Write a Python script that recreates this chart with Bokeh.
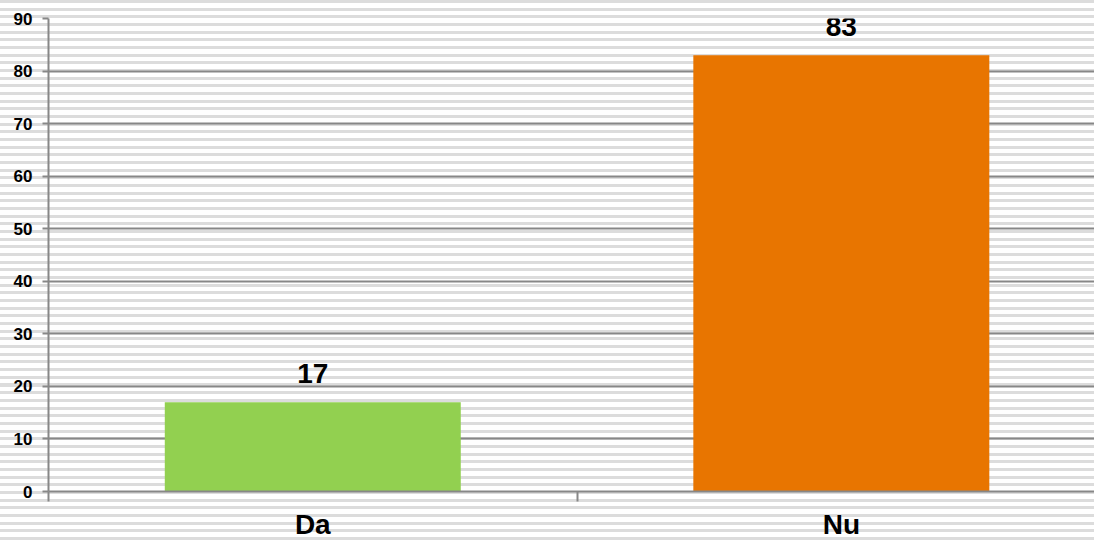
from bokeh.plotting import figure
from bokeh.models import (ColumnDataSource, Range1d, FixedTicker,
                          LabelSet, GlobalInlineStyleSheet)
from bokeh.core.properties import value
from bokeh.embed import file_html
from bokeh.resources import INLINE

# ---- data ----
categories = ["Da", "Nu"]
values = [17, 83]
bar_colors = ["#92D050", "#E87500"]
y_ticks = [0, 10, 20, 30, 40, 50, 60, 70, 80, 90]

xs = [i + 0.5 for i in range(len(categories))]
source = ColumnDataSource(dict(x=xs, top=values, color=bar_colors,
                               label=[str(v) for v in values]))

FONT = "Liberation Sans"
GRAY = "#878787"

p = figure(width=1094, height=542, output_backend="svg", toolbar_location=None,
           x_range=Range1d(0, 1.979), y_range=Range1d(0, 90),
           min_border_left=48, min_border_top=18, min_border_right=0,
           min_border_bottom=51)

p.border_fill_color = None
p.background_fill_color = None
p.outline_line_color = None

p.vbar(x="x", top="top", bottom=0, width=0.56, fill_color="color",
       line_color=None, source=source)

labels = LabelSet(x="x", y="top", text="label", source=source,
                  text_align="center", text_baseline="alphabetic", y_offset=19,
                  text_font=value(FONT), text_font_size="28px", text_font_style="bold",
                  text_color="black")
p.add_layout(labels)

# y axis
p.yaxis.ticker = FixedTicker(ticks=y_ticks)
p.yaxis.axis_line_color = GRAY
p.yaxis.axis_line_width = 2
p.yaxis.major_tick_line_color = GRAY
p.yaxis.major_tick_line_width = 2
p.yaxis.major_tick_out = 6
p.yaxis.major_tick_in = 0
p.yaxis.minor_tick_line_color = None
p.yaxis.major_label_standoff = 10
p.yaxis.major_label_text_font = FONT
p.yaxis.major_label_text_font_size = "17px"
p.yaxis.major_label_text_font_style = "bold"
p.yaxis.major_label_text_color = "black"

# x axis
p.xaxis.ticker = FixedTicker(ticks=xs, minor_ticks=list(range(len(categories) + 1)))
p.xaxis.major_label_overrides = {x: c for x, c in zip(xs, categories)}
p.xaxis.axis_line_color = GRAY
p.xaxis.axis_line_width = 2
p.xaxis.major_tick_line_color = None
p.xaxis.major_tick_out = 0
p.xaxis.major_tick_in = 0
p.xaxis.minor_tick_line_color = GRAY
p.xaxis.minor_tick_line_width = 2
p.xaxis.minor_tick_out = 10
p.xaxis.minor_tick_in = 0
p.xaxis.major_label_standoff = 7
p.xaxis.major_label_text_font = FONT
p.xaxis.major_label_text_font_size = "28px"
p.xaxis.major_label_text_font_style = "bold"
p.xaxis.major_label_text_color = "black"

# grid
p.xgrid.grid_line_color = None
p.ygrid.ticker = FixedTicker(ticks=y_ticks)
p.ygrid.grid_line_color = GRAY
p.ygrid.grid_line_width = 2

# striped page background
p.stylesheets = [GlobalInlineStyleSheet(css=(
    "html, body { background: repeating-linear-gradient(to bottom, "
    "#dcdcdc 0px, #dcdcdc 3px, #ffffff 3px, #ffffff 7.67px); }"))]

open("out.html", "w").write(file_html(p, INLINE))
